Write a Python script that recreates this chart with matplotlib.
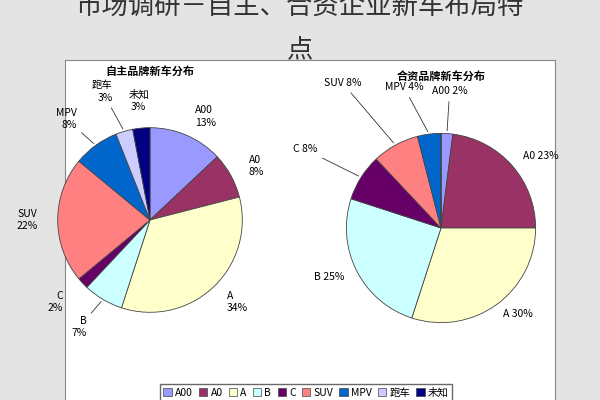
import numpy as np
import matplotlib.pyplot as plt
from matplotlib.patches import Rectangle

plt.rcParams['font.family'] = ['Noto Sans CJK SC', 'DejaVu Sans']

categories = ['A00', 'A0', 'A', 'B', 'C', 'SUV', 'MPV', '跑车', '未知']
own_share = [13, 8, 34, 7, 2, 22, 8, 3, 3]
joint_share = [2, 23, 30, 25, 8, 8, 4, 0, 0]
colors = ['#9999FF', '#993366', '#FFFFCC', '#CCFFFF', '#660066',
          '#FF8080', '#0066CC', '#CCCCFF', '#000080']

fig = plt.figure(figsize=(6, 4), dpi=100)
fig.patch.set_facecolor('#E4E4E4')
fig.text(0.5, 0.985, '市场调研－自主、合资企业新车布局特', ha='center', va='center', fontsize=19, color='#333333')
fig.text(0.5, 0.875, '点', ha='center', va='center', fontsize=19, color='#333333')

# white chart area behind the pies
bg = fig.add_axes([0.108, -0.01, 0.817, 0.86], zorder=-1)
bg.set_xticks([])
bg.set_yticks([])
for s in bg.spines.values():
    s.set_color('#888888')


def draw_pie(rect, values, title, two_line, offsets):
    ax = fig.add_axes(rect)
    ax.set_aspect('equal')
    wedges, _ = ax.pie(values, colors=colors, startangle=90, counterclock=False,
                       wedgeprops=dict(edgecolor='#444444', linewidth=0.6))
    for w, cat, v in zip(wedges, categories, values):
        if v == 0:
            continue
        ang = np.deg2rad((w.theta1 + w.theta2) / 2)
        x, y = np.cos(ang), np.sin(ang)
        d = offsets.get(cat, 1.22)
        txt = f'{cat}\n{v}%' if two_line else f'{cat} {v}%'
        ha = 'left' if x > 0.1 else ('right' if x < -0.1 else 'center')
        if d > 1.3:
            ax.annotate(txt, xy=(x, y), xytext=(x * d, y * d), ha=ha, va='center',
                        fontsize=7.5, linespacing=1.3,
                        arrowprops=dict(arrowstyle='-', color='#333333', lw=0.6))
        else:
            ax.text(x * d, y * d, txt, ha=ha, va='center', fontsize=7.5, linespacing=1.3)
    ax.set_title(title, fontsize=8, fontweight='bold', pad=18)
    ax.set_xlim(-1.3, 1.3)
    ax.set_ylim(-1.3, 1.3)


draw_pie([0.05, 0.1, 0.4, 0.7], own_share, '自主品牌新车分布', True,
         {'B': 1.35, 'C': 1.3, '跑车': 1.45, '未知': 1.3, 'MPV': 1.35})
draw_pie([0.53, 0.08, 0.41, 0.7], joint_share, '合资品牌新车分布', False,
         {'A00': 1.45, 'MPV': 1.5, 'SUV': 1.75, 'C': 1.55, 'A0': 1.15, 'A': 1.12, 'B': 1.15})

handles = [Rectangle((0, 0), 1, 1, facecolor=c, edgecolor='#444444', lw=0.5) for c in colors]
fig.legend(handles, categories, loc='lower center', bbox_to_anchor=(0.51, -0.015), ncol=9,
           fontsize=7.5, frameon=True, edgecolor='#444444', fancybox=False,
           handlelength=0.8, handletextpad=0.3, columnspacing=0.6, borderpad=0.3)

fig.savefig('out.png', dpi=100)
